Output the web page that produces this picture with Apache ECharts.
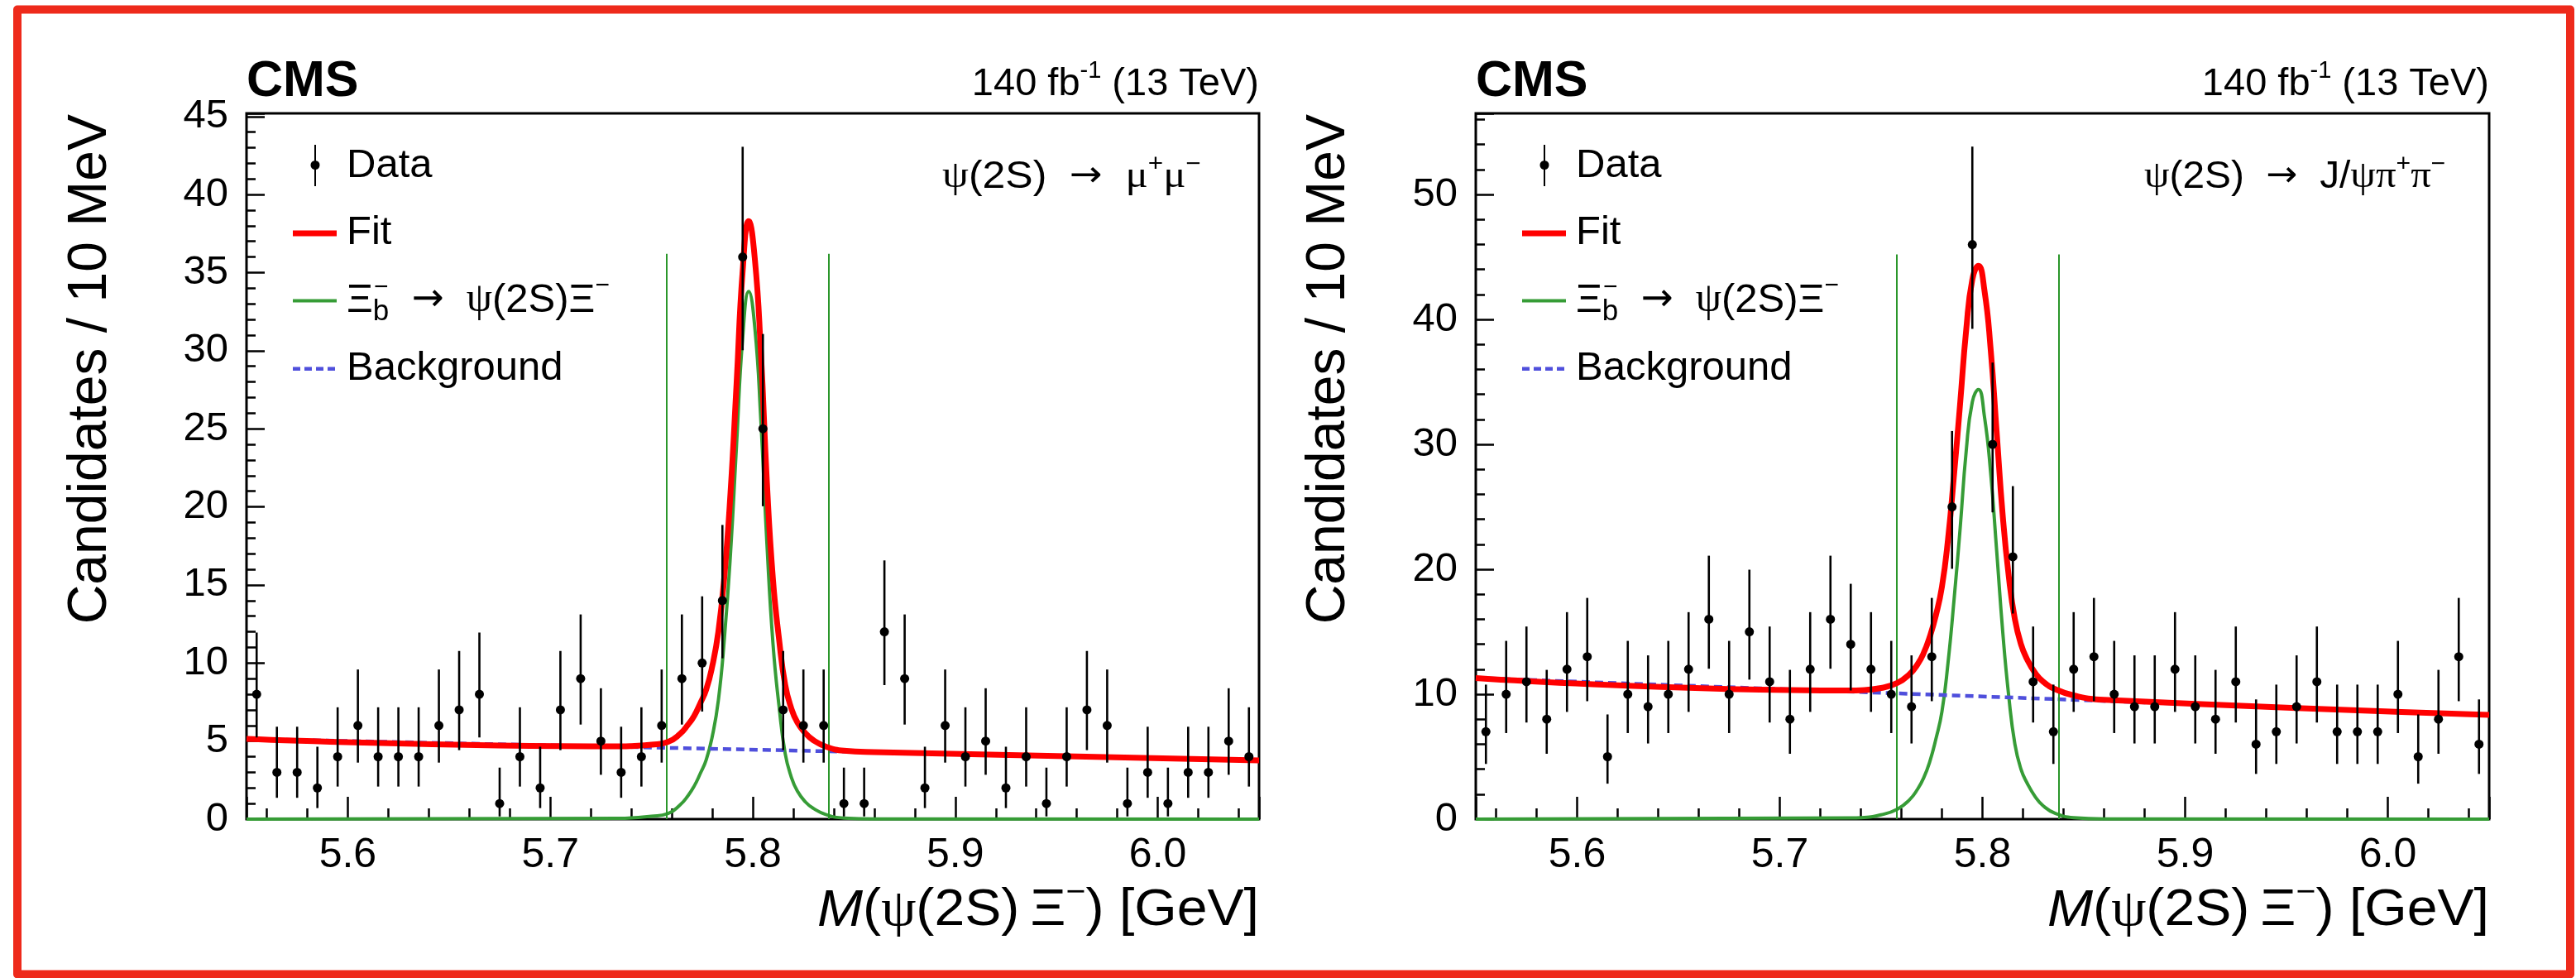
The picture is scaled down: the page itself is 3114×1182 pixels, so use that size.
<!DOCTYPE html>
<html>
<head>
<meta charset="utf-8">
<title>Xi_b- -> psi(2S) Xi- invariant mass</title>
<script src="https://cdn.jsdelivr.net/npm/echarts@6/dist/echarts.min.js"></script>
<style>
  html, body { margin: 0; padding: 0; background: #ffffff; }
  #chart { width: 3114px; height: 1182px; }
</style>
</head>
<body>
<div id="chart"></div>
<script>
// ---------------------------------------------------------------------------
// Data: 10 MeV bins of M(psi(2S) Xi-) between 5.55 and 6.05 GeV
// ---------------------------------------------------------------------------
const binCenters = [
  5.555, 5.565, 5.575, 5.585, 5.595, 5.605, 5.615, 5.625, 5.635, 5.645,
  5.655, 5.665, 5.675, 5.685, 5.695, 5.705, 5.715, 5.725, 5.735, 5.745,
  5.755, 5.765, 5.775, 5.785, 5.795, 5.805, 5.815, 5.825, 5.835, 5.845,
  5.855, 5.865, 5.875, 5.885, 5.895, 5.905, 5.915, 5.925, 5.935, 5.945,
  5.955, 5.965, 5.975, 5.985, 5.995, 6.005, 6.015, 6.025, 6.035, 6.045
];

// psi(2S) -> mu+ mu- channel
const countsMuMu = [
  8, 3, 3, 2, 4, 6, 4, 4, 4, 6,
  7, 8, 1, 4, 2, 7, 9, 5, 3, 4,
  6, 9, 10, 14, 36, 25, 7, 6, 6, 1,
  1, 12, 9, 2, 6, 4, 5, 2, 4, 1,
  4, 7, 6, 1, 3, 1, 3, 3, 5, 4
];

// psi(2S) -> J/psi pi+ pi- channel
const countsJpsiPiPi = [
  7, 10, 11, 8, 12, 13, 5, 10, 9, 10,
  12, 16, 10, 15, 11, 8, 12, 16, 14, 12,
  10, 9, 13, 25, 46, 30, 21, 11, 7, 12,
  13, 10, 9, 9, 12, 9, 8, 11, 6, 7,
  9, 11, 7, 7, 7, 10, 5, 8, 13, 6
];

// 68.3% central Poisson intervals for the bin contents that occur
const poissonCount = [1, 2, 3, 4, 5, 6, 7, 8, 9, 10, 11, 12, 13, 14, 15, 16, 21, 25, 30, 36, 46];
const poissonLow   = [0.173, 0.708, 1.367, 2.086, 2.840, 3.620, 4.419, 5.232, 6.057, 6.891,
                      7.734, 8.585, 9.441, 10.30, 11.17, 12.04, 16.46, 20.04, 24.56, 30.03, 39.25];
const poissonHigh  = [3.300, 4.638, 5.918, 7.163, 8.382, 9.584, 10.77, 11.95, 13.11, 14.27,
                      15.42, 16.57, 17.71, 18.84, 19.97, 21.09, 26.66, 31.07, 36.55, 43.06, 53.84];

// Sampling points of the fitted curves (GeV)
const curveX = [5.550, 5.735, 5.740, 5.750, 5.758, 5.764, 5.768, 5.771, 5.774, 5.777,
                5.780, 5.783, 5.786, 5.789, 5.792, 5.795, 5.798, 5.801, 5.804, 5.807,
                5.810, 5.813, 5.816, 5.819, 5.822, 5.826, 5.830, 5.836, 5.845, 5.860,
                6.050];

// Fit components, mu+ mu- channel
const backgroundMuMuX = [5.55, 6.05];
const backgroundMuMuY = [5.14, 3.76];
const signalMuMuY = [0, 0.05, 0.08, 0.18, 0.35, 0.9, 1.5, 2.1, 2.9, 3.8,
                     5.3, 7.6, 11.6, 17.0, 24.0, 30.8, 33.8, 31.5, 25.5, 17.6,
                     11.2, 7.2, 4.2, 2.7, 1.8, 1.1, 0.68, 0.3, 0.07, 0.01,
                     0];
const fitMuMuY = [5.14, 4.66, 4.68, 4.77, 4.94, 5.45, 6.05, 6.6, 7.4, 8.3,
                  9.8, 12.0, 15.6, 20.9, 27.9, 35.1, 38.3, 35.9, 29.9, 21.5,
                  15.3, 11.5, 8.6, 7.1, 6.2, 5.5, 5.05, 4.65, 4.38, 4.29,
                  3.76];

// Fit components, J/psi pi+ pi- channel
const backgroundJpsiX = [5.55, 6.05];
const backgroundJpsiY = [11.30, 8.34];
const signalJpsiY = [0, 0.1, 0.12, 0.35, 0.8, 1.55, 2.4, 3.3, 4.6, 6.4,
                     8.6, 12.5, 17.6, 23.3, 29.5, 33.4, 34.4, 32.2, 27.8, 21.5,
                     15.0, 9.8, 6.0, 4.0, 2.9, 1.8, 1.06, 0.45, 0.12, 0.02,
                     0];
const fitJpsiY = [11.30, 10.30, 10.32, 10.5, 10.9, 11.6, 12.4, 13.3, 14.6, 16.3,
                  18.6, 22.4, 27.6, 33.3, 39.2, 43.2, 44.3, 42.3, 37.7, 31.0,
                  24.3, 19.4, 16.0, 14.0, 12.8, 11.7, 11.0, 10.4, 9.9, 9.55,
                  8.34];

// Signal mass window and axis ranges
const windowEdges = [5.7575, 5.8375];
const windowTopMuMu = 36.2;
const windowTopJpsi = 45.2;
const massMin = 5.55, massMax = 6.05;
const yMaxMuMu = 45.2, yStepMuMu = 5;
const yMaxJpsi = 56.5, yStepJpsi = 10;

// ---------------------------------------------------------------------------
// Styling
// ---------------------------------------------------------------------------
const SANS = '"Liberation Sans", Arial, Helvetica, sans-serif';
const SERIF = '"Liberation Serif", "Times New Roman", serif';
const ARROW = '"DejaVu Sans", sans-serif';
const RED = '#ff0000';
const GREEN = '#369c36';
const GREEN_WINDOW = '#2a962a';
const BLUE = '#4f4fdc';
const BORDER = '#ee2a1b';

const zip = (xs, ys) => xs.map((x, i) => [x, ys[i]]);
const isMultiple = (v, step) => Math.abs(v / step - Math.round(v / step)) < 1e-6;

function withErrors(counts) {
  return binCenters.map((x, i) => {
    const n = counts[i];
    const k = poissonCount.indexOf(n);
    return [x, n, poissonLow[k], poissonHigh[k]];
  });
}

function renderErrorPoint(params, api) {
  const x = api.value(0);
  const top = api.coord([x, api.value(3)]);
  const bottom = api.coord([x, api.value(2)]);
  const centre = api.coord([x, api.value(1)]);
  return {
    type: 'group',
    children: [
      { type: 'line', shape: { x1: top[0], y1: top[1], x2: bottom[0], y2: bottom[1] },
        style: { stroke: '#000', lineWidth: 2.6 } },
      { type: 'circle', shape: { cx: centre[0], cy: centre[1], r: 5.5 },
        style: { fill: '#000' } }
    ]
  };
}

function xAxisFor(idx) {
  return {
    gridIndex: idx, type: 'value', min: massMin, max: massMax, splitNumber: 5,
    axisLine: { show: false }, splitLine: { show: false },
    axisTick: { show: true, inside: true, length: 27, lineStyle: { color: '#000', width: 2.5 } },
    minorTick: { show: true, splitNumber: 5, length: 13, lineStyle: { color: '#000', width: 2.5 } },
    minorSplitLine: { show: false },
    axisLabel: {
      margin: 19, fontSize: 50, fontFamily: SANS, color: '#000',
      formatter: v => isMultiple(v, 0.1) ? v.toFixed(1) : ''
    }
  };
}

function yAxisFor(idx, max, step) {
  return {
    gridIndex: idx, type: 'value', min: 0, max: max, interval: step,
    axisLine: { show: false }, splitLine: { show: false },
    axisTick: { show: true, inside: true, length: 22, lineStyle: { color: '#000', width: 2.5 } },
    minorTick: { show: true, splitNumber: 5, length: 11, lineStyle: { color: '#000', width: 2.5 } },
    minorSplitLine: { show: false },
    axisLabel: {
      margin: 22, fontSize: 49, fontFamily: SANS, color: '#000',
      formatter: v => isMultiple(v, step) ? String(Math.round(v)) : ''
    }
  };
}

function panelSeries(idx, counts, bgX, bgY, sigY, fitY, windowTop) {
  const ax = { xAxisIndex: idx, yAxisIndex: idx };
  return [
    {
      ...ax, type: 'line', name: 'Signal', data: zip(curveX, sigY),
      smooth: 0.5, symbol: 'none', clip: false, z: 3,
      lineStyle: { color: GREEN, width: 4 },
      markLine: {
        silent: true, symbol: ['none', 'none'], label: { show: false },
        lineStyle: { color: GREEN_WINDOW, width: 2, type: 'solid' },
        data: windowEdges.map(x => [{ coord: [x, 0] }, { coord: [x, windowTop] }])
      }
    },
    {
      ...ax, type: 'line', name: 'Background', data: zip(bgX, bgY),
      symbol: 'none', z: 4,
      lineStyle: { color: BLUE, width: 4.5, type: [10, 6] }
    },
    {
      ...ax, type: 'line', name: 'Fit', data: zip(curveX, fitY),
      smooth: 0.5, symbol: 'none', z: 5,
      lineStyle: { color: RED, width: 7 }
    },
    {
      ...ax, type: 'custom', name: 'Data', data: withErrors(counts),
      renderItem: renderErrorPoint, encode: { x: 0, y: 1 }, z: 6
    }
  ];
}

// rich text styles for labels with Greek letters, super- and subscripts
function richSet(fs) {
  return {
    n:   { fontFamily: SANS, fontSize: fs, lineHeight: Math.round(fs * 1.3), fill: '#000' },
    it:  { fontFamily: SANS, fontSize: fs, fontStyle: 'italic', lineHeight: Math.round(fs * 1.3), fill: '#000' },
    g:   { fontFamily: SERIF, fontSize: fs * 1.02, lineHeight: Math.round(fs * 1.3), fill: '#000' },
    ar:  { fontFamily: ARROW, fontSize: fs * 0.95, lineHeight: Math.round(fs * 1.3), fill: '#000' },
    sup: { fontFamily: SANS, fontSize: Math.round(fs * 0.62), lineHeight: Math.round(fs * 0.62), verticalAlign: 'top', fill: '#000' },
    sub: { fontFamily: SANS, fontSize: Math.round(fs * 0.72), lineHeight: Math.round(fs * 0.72), verticalAlign: 'bottom', fill: '#000' }
  };
}

function label(x, y, text, fs, align, extra) {
  return Object.assign({
    type: 'text', x: x, y: y, z: 100, silent: true,
    style: { text: text, rich: richSet(fs), align: align, verticalAlign: 'middle', fill: '#000' }
  }, extra || {});
}

function panelDecor(dx, gridRight, channelX, channelText, channelStretch, yTitleX) {
  return [
    // CMS label and luminosity
    { type: 'text', x: 298 + dx, y: 99, z: 100, silent: true,
      style: { text: 'CMS', fontFamily: SANS, fontWeight: 'bold', fontSize: 61, fill: '#000', align: 'left', verticalAlign: 'middle' } },
    label(gridRight, 102, '{n|140 fb}{sup|-1}{n| (13 TeV)}', 47, 'right'),
    // decay channel
    label(channelX, 214, channelText, 46, 'left', { scaleX: channelStretch }),
    // legend: data
    { type: 'line', z: 100, silent: true, shape: { x1: 381 + dx, y1: 175, x2: 381 + dx, y2: 225 }, style: { stroke: '#000', lineWidth: 2 } },
    { type: 'circle', z: 100, silent: true, shape: { cx: 381 + dx, cy: 199.5, r: 5.5 }, style: { fill: '#000' } },
    label(419 + dx, 200, '{n|Data}', 49, 'left'),
    // legend: fit
    { type: 'line', z: 100, silent: true, shape: { x1: 354 + dx, y1: 282, x2: 407 + dx, y2: 282 }, style: { stroke: RED, lineWidth: 7 } },
    label(419 + dx, 281, '{n|Fit}', 49, 'left'),
    // legend: signal
    { type: 'line', z: 100, silent: true, shape: { x1: 354 + dx, y1: 363.5, x2: 407 + dx, y2: 363.5 }, style: { stroke: GREEN, lineWidth: 4 } },
    label(419 + dx, 363, '{n|Ξ}{sub|b}{n|  }{ar|→}{n|  }{g|ψ}{n|(2S)}{n|Ξ}{sup|−}', 49, 'left'),
    { type: 'text', x: 452 + dx, y: 348, z: 101, silent: true,
      style: { text: '−', fontFamily: SANS, fontSize: 30, fill: '#000', align: 'left', verticalAlign: 'middle' } },
    // legend: background
    { type: 'line', z: 100, silent: true, shape: { x1: 354 + dx, y1: 445.7, x2: 407 + dx, y2: 445.7 }, style: { stroke: BLUE, lineWidth: 4.5, lineDash: [9, 5] } },
    label(419 + dx, 445, '{n|Background}', 49, 'left'),
    // axis titles
    label(gridRight, 1101, '{it|M}{n|(}{g|ψ}{n|(2S)\u2009Ξ}{sup|−}{n|) [GeV]}', 63, 'right', { scaleX: 1.05 }),
    { type: 'text', x: yTitleX, y: 138, rotation: Math.PI / 2, z: 100, silent: true,
      style: { text: 'Candidates / 10 MeV', fontFamily: SANS, fontSize: 66, fill: '#000', align: 'right', verticalAlign: 'middle' } }
  ];
}

const chart = echarts.init(document.getElementById('chart'), null, { renderer: 'canvas' });

chart.setOption({
  animation: false,
  backgroundColor: '#ffffff',
  textStyle: { fontFamily: SANS },
  grid: [
    { left: 298, top: 137, width: 1224, height: 853, show: true, borderColor: '#000', borderWidth: 3, backgroundColor: 'rgba(0,0,0,0)' },
    { left: 1784, top: 137, width: 1225, height: 853, show: true, borderColor: '#000', borderWidth: 3, backgroundColor: 'rgba(0,0,0,0)' }
  ],
  xAxis: [xAxisFor(0), xAxisFor(1)],
  yAxis: [yAxisFor(0, yMaxMuMu, yStepMuMu), yAxisFor(1, yMaxJpsi, yStepJpsi)],
  series: [
    ...panelSeries(0, countsMuMu, backgroundMuMuX, backgroundMuMuY, signalMuMuY, fitMuMuY, windowTopMuMu),
    ...panelSeries(1, countsJpsiPiPi, backgroundJpsiX, backgroundJpsiY, signalJpsiY, fitJpsiY, windowTopJpsi)
  ],
  graphic: [
    // hand-drawn style frame around the figure
    { type: 'rect', z: 50, silent: true, shape: { x: 21, y: 11.5, width: 3086, height: 1166 },
      style: { fill: 'none', stroke: BORDER, lineWidth: 10, lineJoin: 'round' } },
    ...panelDecor(0, 1522, 1139, '{g|ψ}{n|(2S)}{n|  }{ar|→}{n|  }{g|μ}{sup|+}{g|μ}{sup|−}', 1.086, 110),
    ...panelDecor(1486, 3009, 2592, '{g|ψ}{n|(2S)}{n|  }{ar|→}{n|  }{n|J/}{g|ψπ}{sup|+}{g|π}{sup|−}', 1.04, 1607)
  ]
});
</script>
</body>
</html>
